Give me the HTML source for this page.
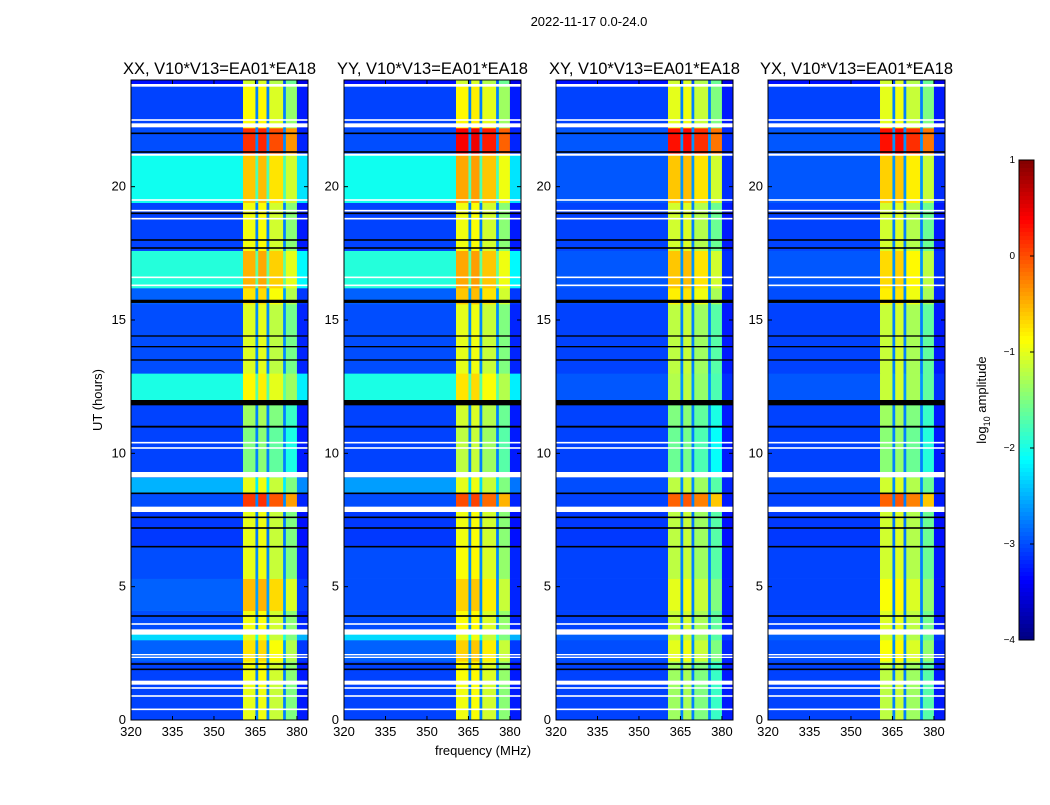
<!DOCTYPE html>
<html><head><meta charset="utf-8">
<style>
html,body{margin:0;padding:0;background:#fff;}
body{width:1050px;height:800px;overflow:hidden;font-family:"Liberation Sans","DejaVu Sans",sans-serif;}
svg text{font-family:"Liberation Sans","DejaVu Sans",sans-serif;}
</style></head>
<body>
<svg id="chart" width="1050" height="800" viewBox="0 0 1050 800" xmlns="http://www.w3.org/2000/svg">
<text x="589" y="26" font-size="13" text-anchor="middle">2022-11-17 0.0-24.0</text>
<text x="102" y="400" font-size="13" text-anchor="middle" transform="rotate(-90 102 400)">UT (hours)</text>
<text x="483" y="755" font-size="13" text-anchor="middle">frequency (MHz)</text>
<g id="panels"></g>
<g id="cbar"></g>
<text x="986" y="400" font-size="13" text-anchor="middle" transform="rotate(-90 986 400)">log<tspan font-size="9" dy="4">10</tspan><tspan dy="-4"> amplitude</tspan></text>
</svg>
<script>
// ---- data ----
const panelTitles = ["XX, V10*V13=EA01*EA18","YY, V10*V13=EA01*EA18","XY, V10*V13=EA01*EA18","YX, V10*V13=EA01*EA18"];
const xTicks = [320,335,350,365,380];
const yTicks = [0,5,10,15,20];
const cbTicks = [1,0,-1,-2,-3,-4];
// time segments (hours)
const segStart = [0,1.5,2.2,3.0,3.4,4.1,5.3,6.5,8.0,8.5,9.1,11.0,12.0,13.0,15.6,16.2,17.6,19.4,21.2,22.2,23.8];
const segEnd   = [1.5,2.2,3.0,3.4,4.1,5.3,6.5,8.0,8.5,9.1,11.0,12.0,13.0,15.6,16.2,17.6,19.4,21.2,22.2,23.8,24];
// background (out of band) log amplitude per panel per segment
const bgXX = [-3.05,-3.05,-2.9,-2.3,-3.0,-2.9,-3.0,-3.1,-3.0,-2.5,-3.05,-3.05,-2.0,-3.0,-2.9,-1.95,-3.05,-2.05,-3.0,-3.05,-3.3];
const bgYY = [-3.05,-3.05,-2.9,-2.3,-3.0,-3.0,-3.0,-3.1,-3.0,-2.6,-3.05,-3.05,-2.0,-3.0,-2.9,-1.95,-3.05,-2.05,-3.0,-3.05,-3.3];
const bgXY = [-3.05,-3.05,-3.0,-2.9,-3.05,-3.05,-3.05,-3.1,-3.05,-3.0,-3.05,-3.05,-2.95,-3.05,-3.0,-2.95,-3.05,-2.95,-2.95,-3.05,-3.3];
const bgYX = [-3.05,-3.05,-3.0,-2.9,-3.05,-3.05,-3.05,-3.1,-3.05,-3.0,-3.05,-3.05,-2.95,-3.05,-3.0,-2.95,-3.05,-2.95,-2.95,-3.05,-3.3];
// in-band level per panel per segment
const bandXX = [-1.0,-0.95,-0.75,-1.0,-0.95,-0.55,-1.0,-1.0,0.1,-1.0,-1.5,-1.35,-0.85,-1.05,-0.75,-0.5,-0.95,-0.6,0.15,-0.9,-1.1];
const bandYY = [-0.95,-0.9,-0.65,-1.0,-0.9,-0.65,-0.9,-0.95,0.0,-1.0,-1.2,-1.1,-0.75,-1.0,-0.6,-0.45,-0.95,-0.45,0.4,-0.85,-1.1];
const bandXY = [-1.35,-1.35,-1.0,-1.2,-1.15,-1.0,-1.2,-1.2,-0.1,-1.2,-1.6,-1.5,-1.25,-1.2,-0.8,-0.6,-1.1,-0.6,0.3,-1.0,-1.1];
const bandYX = [-1.2,-1.2,-0.9,-1.1,-1.05,-0.9,-1.1,-1.1,-0.1,-1.1,-1.45,-1.35,-1.15,-1.15,-0.8,-0.7,-1.1,-0.65,0.3,-1.0,-1.1];
// frequency columns (MHz): kind 0=out of band, 1=band, 2=separator
const colStart = [320,360.5,365,366,369,370,375,376,380];
const colEnd   = [360.5,365,366,369,370,375,376,380,384];
const colKind  = [0,1,2,1,2,1,2,1,0];
const colOffset= [0,0,0.3,0.05,0.3,-0.15,0.3,-0.5,-0.2];
// flagged rows: white (blank) and black
const whiteH = [0.4,0.9,1.2,1.4,2.35,2.45,3.3,3.6,7.9,9.2,10.2,10.4,16.3,16.6,18.8,19.1,19.5,21.2,22.3,22.5,23.8];
const whiteW = [0.06,0.06,0.06,0.15,0.05,0.05,0.2,0.06,0.2,0.2,0.06,0.06,0.06,0.06,0.06,0.06,0.06,0.08,0.15,0.06,0.1];
const blackH = [1.9,2.1,3.9,6.5,7.2,7.6,8.5,11.0,11.9,13.5,14.0,14.4,15.7,17.7,18.0,19.0,21.3,22.0];
const blackW = [0.06,0.06,0.06,0.06,0.06,0.06,0.06,0.07,0.2,0.05,0.05,0.05,0.12,0.06,0.06,0.06,0.06,0.06];
const bgAll = [bgXX,bgYY,bgXY,bgYX];
const bandAll = [bandXX,bandYY,bandXY,bandYX];
// ---- drawing ----
const NS="http://www.w3.org/2000/svg";
const panelX=[131,344,556,768], PW=177, PT=80, PH=640;
const vmin=-4, vmax=1;
function clamp(v){return Math.max(0,Math.min(1,v));}
function jet(v){const t=clamp((v-vmin)/(vmax-vmin));
 const r=clamp(1.5-Math.abs(4*t-3)),g=clamp(1.5-Math.abs(4*t-2)),b=clamp(1.5-Math.abs(4*t-1));
 return `rgb(${Math.round(r*255)},${Math.round(g*255)},${Math.round(b*255)})`;}
function mk(tag,attrs,parent){const e=document.createElementNS(NS,tag);for(const k in attrs)e.setAttribute(k,attrs[k]);parent.appendChild(e);return e;}
const root=document.getElementById('panels');
for(let p=0;p<4;p++){
 const x0=panelX[p];
 const xs=f=>x0+(f-320)/64*PW;
 const ys=h=>PT+PH-h/24*PH;
 const g=mk('g',{},root);
 
 
 for(let s=0;s<segStart.length;s++){
  for(let c=0;c<colStart.length;c++){
   const bg=bgAll[p][s], bd=bandAll[p][s];
   let v= colKind[c]===0? bg+colOffset[c] : colKind[c]===1? bd+colOffset[c] : bg+colOffset[c];
   const r=mk('rect',{x:xs(colStart[c]),y:ys(segEnd[s]),width:xs(colEnd[c])-xs(colStart[c])+0.3,height:ys(segStart[s])-ys(segEnd[s])+0.3,fill:jet(v)},g);
   
   
  }
 }
 for(let i=0;i<whiteH.length;i++){
  const r=mk('rect',{x:x0,y:ys(whiteH[i]+whiteW[i]/2),width:PW,height:Math.max(1,whiteW[i]/24*PH),fill:'#fff'},g);
  
  
 }
 for(let i=0;i<blackH.length;i++){
  const r=mk('rect',{x:x0,y:ys(blackH[i]+blackW[i]/2),width:PW,height:Math.max(1,blackW[i]/24*PH),fill:'#000'},g);
  
  
 }
 const fr=mk('rect',{x:x0,y:PT,width:PW,height:PH,fill:'none',stroke:'#000','stroke-width':1},g);
 
 
 const t=mk('text',{x:x0+PW/2,y:74,'font-size':16.5,'text-anchor':'middle'},g);t.textContent=panelTitles[p];
 
 
 for(const xv of xTicks){
  mk('line',{x1:xs(xv),x2:xs(xv),y1:PT+PH,y2:PT+PH-4,stroke:'#000'},g);
  mk('line',{x1:xs(xv),x2:xs(xv),y1:PT,y2:PT+4,stroke:'#000'},g);
  const tl=mk('text',{x:xs(xv),y:PT+PH+16,'font-size':13,'text-anchor':'middle'},g);tl.textContent=xv;
  
  
 }
 for(const yv of yTicks){
  mk('line',{x1:x0,x2:x0+4,y1:ys(yv),y2:ys(yv),stroke:'#000'},g);
  mk('line',{x1:x0+PW,x2:x0+PW-4,y1:ys(yv),y2:ys(yv),stroke:'#000'},g);
  const tl=mk('text',{x:x0-5,y:ys(yv)+4,'font-size':13,'text-anchor':'end'},g);tl.textContent=yv;
  
  
 }
}
// colorbar
const cb=document.getElementById('cbar');
const cbx=1019,cbw=15,cbt=160,cbh=480;
for(let i=0;i<120;i++){
 const v=vmax-(i+0.5)/120*(vmax-vmin);
 mk('rect',{x:cbx,y:cbt+i*cbh/120,width:cbw,height:cbh/120+0.5,fill:jet(v)},cb);
}
mk('rect',{x:cbx,y:cbt,width:cbw,height:cbh,fill:'none',stroke:'#000'},cb);
for(const v of cbTicks){
 const y=cbt+(vmax-v)/(vmax-vmin)*cbh;
 mk('line',{x1:cbx+cbw,x2:cbx+cbw-4,y1:y,y2:y,stroke:'#000'},cb);
 const tl=mk('text',{x:cbx-4,y:y+3,'font-size':10,'text-anchor':'end'},cb);tl.textContent=v<0?'\u2212'+(-v):v;
 
 
}
</script>
</body></html>
